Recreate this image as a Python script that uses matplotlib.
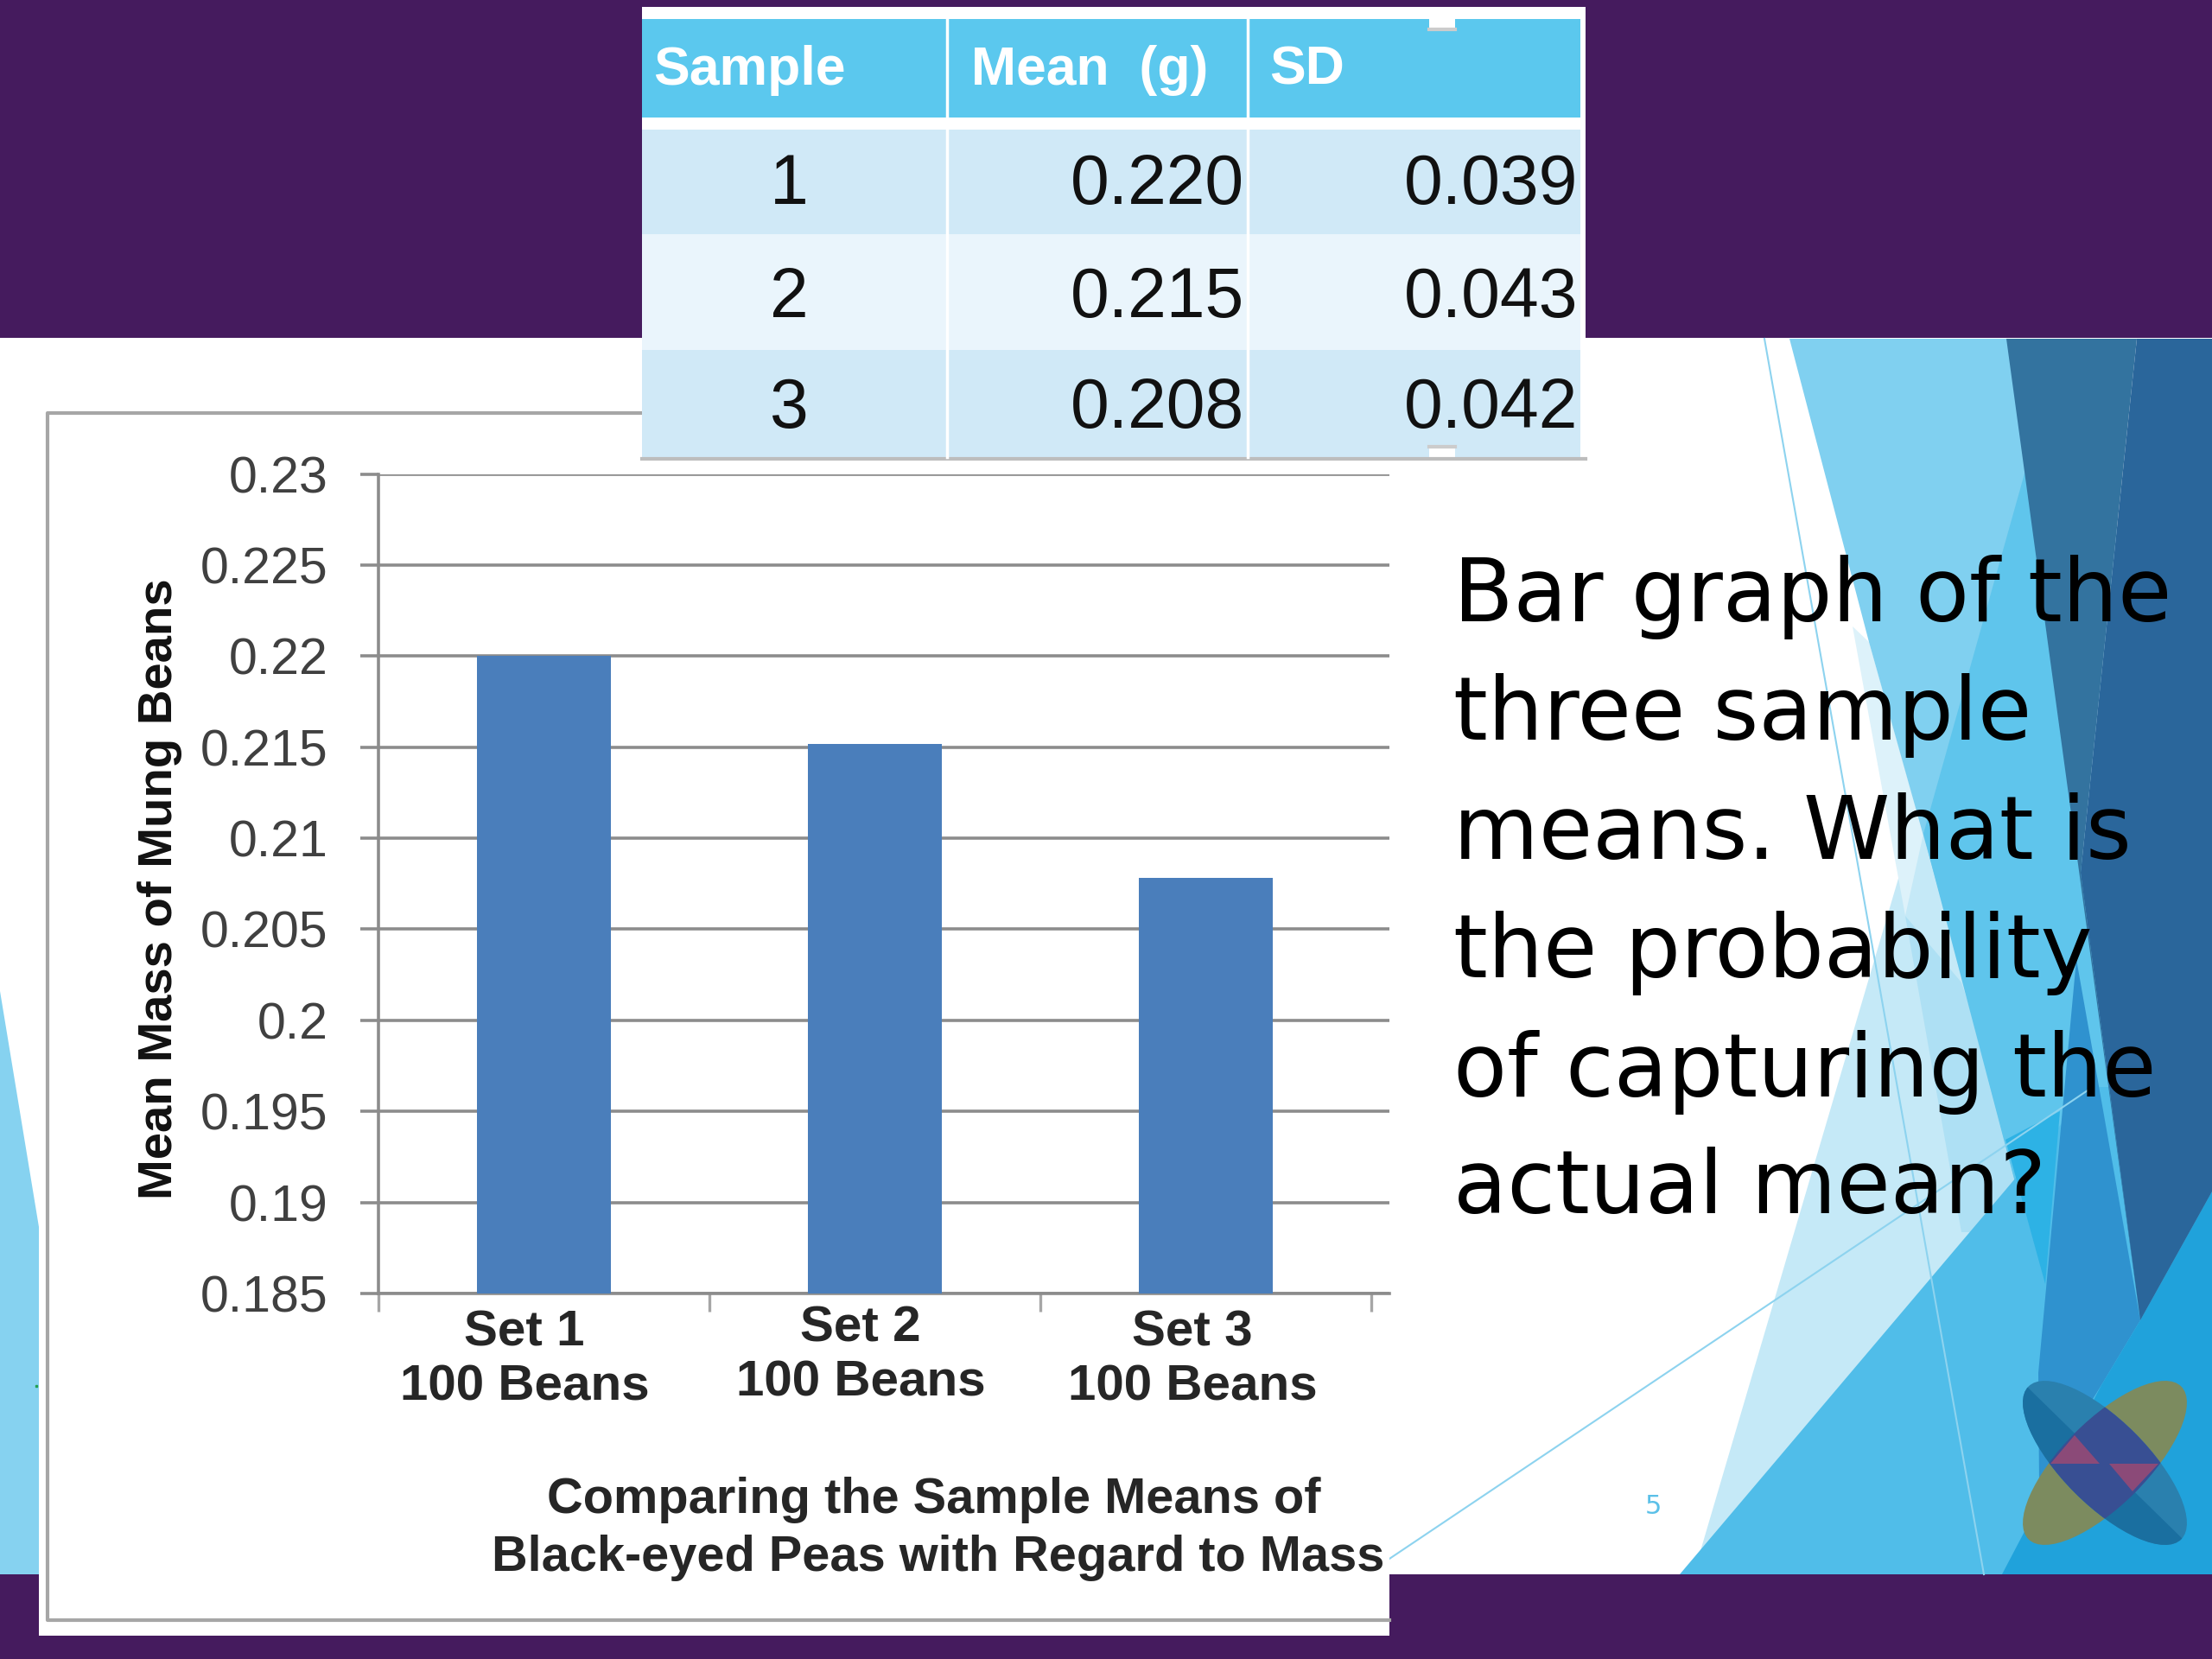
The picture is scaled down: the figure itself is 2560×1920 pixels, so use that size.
import matplotlib
matplotlib.use("Agg")
import matplotlib.pyplot as plt
from matplotlib.patches import Ellipse, Polygon, Rectangle

W, H = 2560, 1920

# table + bars
samples = ["1", "2", "3"]
means = [0.220, 0.215, 0.208]
sds = [0.039, 0.043, 0.042]
table_headers = ["Sample", "Mean  (g)", "SD"]

bar_means = [0.22, 0.2152, 0.2078]
set_labels = ["Set 1\n100 Beans", "Set 2\n100 Beans", "Set 3\n100 Beans"]
y_ticks = [0.185, 0.19, 0.195, 0.2, 0.205, 0.21, 0.215, 0.22, 0.225, 0.23]
y_tick_labels = ["0.185", "0.19", "0.195", "0.2", "0.205", "0.21", "0.215", "0.22", "0.225", "0.23"]
y_label = "Mean Mass of Mung Beans"
chart_title = ["Comparing the Sample Means of", "Black-eyed Peas with Regard to Mass"]
slide_lines = ["Bar graph of the", "three sample", "means. What is", "the probability",
               "of capturing the", "actual mean?"]

PURPLE = "#451B5E"
ARIAL = "Liberation Sans"


def pixel_axes(fig, zorder):
    ax = fig.add_axes([0, 0, 1, 1], zorder=zorder)
    ax.set_xlim(0, W)
    ax.set_ylim(H, 0)
    ax.axis("off")
    return ax


def shape(ax, pts, color):
    p = Polygon(pts, color=color, lw=0)
    ax.add_patch(p)
    return p


fig = plt.figure(figsize=(25.6, 19.2), dpi=100, facecolor="white")

# slide background, painted back to front
bg = pixel_axes(fig, 0)
shape(bg, [(0, 1147), (45, 1420), (45, 1822), (0, 1822)], "#86D2F0")
shape(bg, [(2337, 541), (1960, 1822), (2450, 1822), (2450, 600)], "#C5E9F7")
shape(bg, [(2144, 725), (2205, 1060), (2226, 965), (2163, 743)], "#DDF2FA")
shape(bg, [(2205, 1060), (2270, 1426), (2365, 1426), (2270, 1137)], "#AEE0F4")
shape(bg, [(2071, 392), (2330, 392), (2480, 1530), (2363, 1486), (2251, 1056), (2163, 743)], "#80D0F0")
shape(bg, [(2345, 541), (2226, 965), (2363, 1486), (2480, 1530)], "#5FC5EC")
shape(bg, [(1944, 1822), (2422, 1258), (2560, 1258), (2560, 1822)], "#50BDE9")
shape(bg, [(2321, 1319), (2384, 1286), (2367, 1486)], "#2DB2E5")
shape(bg, [(2403, 1110), (2359, 1589), (2360, 1720), (2432, 1603), (2477, 1528)], "#2F92CF")
shape(bg, [(2560, 1379), (2477, 1528), (2432, 1603), (2317, 1822), (2560, 1822)], "#20A2DB")
shape(bg, [(2322, 392), (2473, 392), (2408, 1010), (2477, 1528)], "#33739F")
shape(bg, [(2473, 392), (2560, 392), (2560, 1379), (2477, 1528), (2408, 1010)], "#2A669B")
bg.plot([2042, 2296], [392, 1822], color="#8DD3EF", lw=1.5)
bg.plot([1608, 2422], [1804, 1258], color="#8DD3EF", lw=1.5)

# logo
olive = Ellipse((2436, 1693), 250, 98, angle=-45, color="#7C8B5F", lw=0)
bg.add_patch(olive)
blue = Ellipse((2436, 1693), 250, 98, angle=45, color="#2A80AE", lw=0)
bg.add_patch(blue)
dark_half = shape(bg, [(2300, 1560), (2572, 1826), (2300, 1826)], "#1A6FA0")
dark_half.set_clip_path(blue)
overlap = Ellipse((2436, 1693), 250, 98, angle=-45, color="#384F93", lw=0)
bg.add_patch(overlap)
overlap.set_clip_path(blue)
shape(bg, [(2373, 1694), (2401, 1661), (2430, 1694)], "#8B4A78")
shape(bg, [(2441, 1694), (2498, 1694), (2468, 1726)], "#8B4A78")

# purple bands
bg.add_patch(Rectangle((0, 0), W, 391, color=PURPLE, lw=0))
bg.add_patch(Rectangle((0, 1822), W, 98, color=PURPLE, lw=0))

for i, line in enumerate(slide_lines):
    base = [719, 856, 994, 1131, 1269, 1404][i]
    bg.text(1682, base, line, fontsize=73, family="DejaVu Sans", color="black", va="baseline", ha="left")
bg.text(1913, 1744, "5", fontsize=22, family="DejaVu Sans", color="#5BC0E8", ha="center", va="center")
bg.plot([42], [1604], marker="s", ms=2, color="#22A050")

# pasted chart picture: white box with its grey frame
bg.add_patch(Rectangle((45, 470), 1563, 1423, color="white", lw=0, zorder=5))
bg.plot([1608, 55, 55, 1608], [478, 478, 1875, 1875], color="#A6A6A6", lw=3, zorder=6)

ax = fig.add_axes([437.6 / W, 1 - 1497 / H, (1608 - 437.6) / W, (1497 - 548.6) / H], zorder=1)
ax.patch.set_alpha(0)
x_pos = [0.5, 1.5, 2.5]
ax.bar(x_pos, bar_means, width=0.404, color="#4A7EBB", zorder=3)
ax.set_xlim(0, 3.055)
ax.set_ylim(0.185, 0.23)
ax.set_yticks(y_ticks)
ax.set_yticklabels(y_tick_labels, family=ARIAL, fontsize=42.5, color="#404040")
ax.set_xticks([0, 1, 2, 3])
ax.set_xticklabels([])
ax.grid(axis="y", color="#8C8C8C", lw=2.6, zorder=1)
ax.tick_params(axis="y", length=15, width=2.6, color="#8C8C8C", pad=27)
ax.tick_params(axis="x", length=15, width=2.4, color="#A6A6A6")
for side in ["top", "right"]:
    ax.spines[side].set_visible(False)
for side in ["left", "bottom"]:
    ax.spines[side].set_color("#8C8C8C")
    ax.spines[side].set_linewidth(2.6)

# table and chart captions go on top of everything
top = pixel_axes(fig, 2)
label_xy = [(607, 1574), (996, 1569), (1380, 1574)]
for (x, y), label in zip(label_xy, set_labels):
    top.text(x, y, label, family=ARIAL, fontweight="bold", fontsize=42, color="#262626",
             ha="center", va="center", linespacing=1.2)
top.text(185, 1029, y_label, family=ARIAL, fontweight="bold", fontsize=40.5, color="#111111",
         rotation=90, ha="center", va="center")
top.text(1081, 1736, chart_title[0], family=ARIAL, fontweight="bold", fontsize=41.6, color="#262626",
         ha="center", va="center")
top.text(1086, 1803, chart_title[1], family=ARIAL, fontweight="bold", fontsize=41.6, color="#262626",
         ha="center", va="center")

top.add_patch(Rectangle((743, 8), 1092, 524, color="white", lw=0))
top.add_patch(Rectangle((743, 22), 1086, 114, color="#5BC8EE", lw=0))
row_edges = [150, 271, 405, 529]
row_colors = ["#D0E9F7", "#EAF5FC", "#D0E9F7"]
for i, c in enumerate(row_colors):
    top.add_patch(Rectangle((743, row_edges[i]), 1086, row_edges[i + 1] - row_edges[i], color=c, lw=0))
top.plot([743, 1835], [531, 531], color="#BDBDBD", lw=3)
for x in [1096, 1444]:
    top.plot([x, x], [22, 529], color="white", lw=2.5)
for y in [18, 516]:
    top.add_patch(Rectangle((1654, y), 30, 16, color="white", lw=0))
top.plot([1654, 1684], [34, 34], color="#CCCCCC", lw=3)
top.plot([1654, 1684], [517, 517], color="#CCCCCC", lw=3)

for x, head in zip([756, 1124, 1469], table_headers):
    top.text(x, 98, head, family=ARIAL, fontweight="bold", fontsize=45, color="white", va="baseline")
baselines = [236, 367, 495]
for base, s, m, sd in zip(baselines, samples, means, sds):
    top.text(913, base, s, family=ARIAL, fontsize=58, color="#111111", ha="center", va="baseline")
    top.text(1440, base, f"{m:.3f}", family=ARIAL, fontsize=58, color="#111111", ha="right", va="baseline")
    top.text(1826, base, f"{sd:.3f}", family=ARIAL, fontsize=58, color="#111111", ha="right", va="baseline")

fig.savefig("out.png", dpi=100)
